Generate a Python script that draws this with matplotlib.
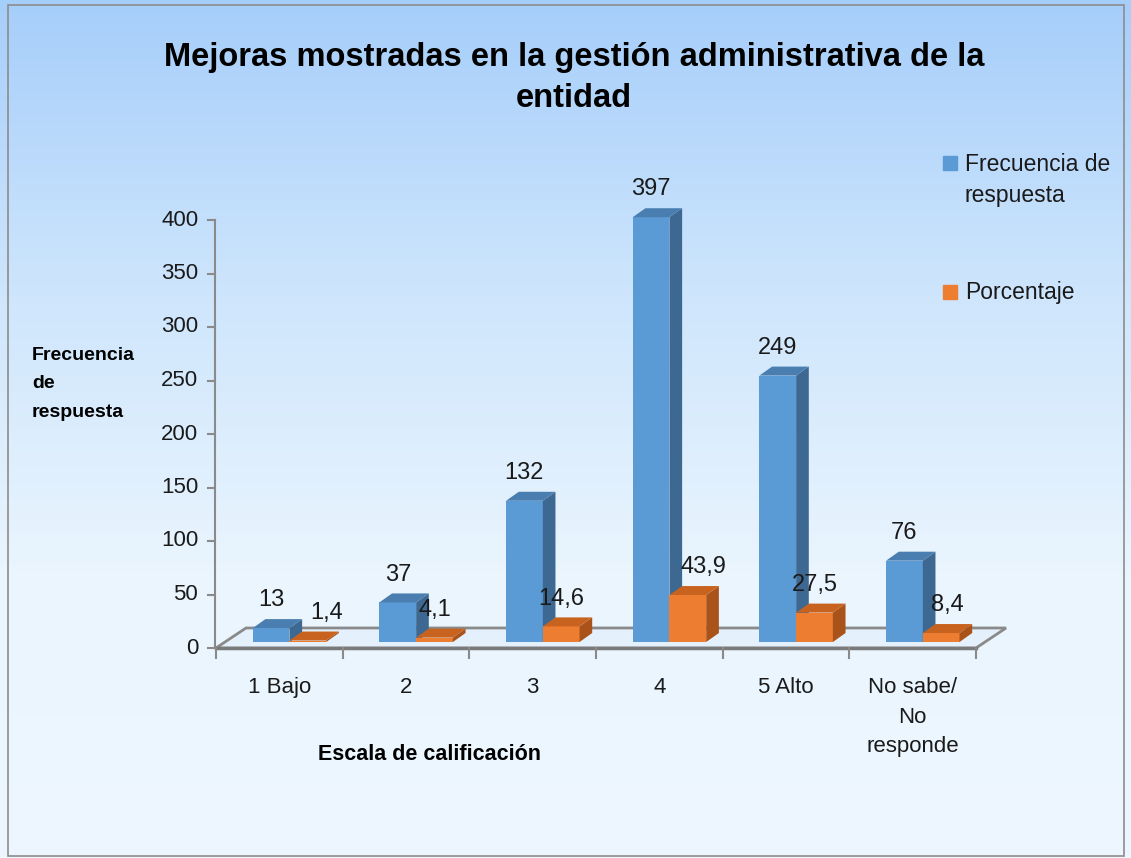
import numpy as np
import matplotlib.pyplot as plt
from matplotlib.patches import Polygon, Rectangle
from matplotlib.colors import LinearSegmentedColormap

categories = ['1 Bajo', '2', '3', '4', '5 Alto', 'No sabe/\nNo\nresponde']
frecuencia = [13, 37, 132, 397, 249, 76]
porcentaje = [1.4, 4.1, 14.6, 43.9, 27.5, 8.4]
pct_labels = ['1,4', '4,1', '14,6', '43,9', '27,5', '8,4']
yticks = [0, 50, 100, 150, 200, 250, 300, 350, 400]

plt.rcParams['font.family'] = ['Liberation Sans', 'DejaVu Sans']
txt = '#1a1a1a'

W, H = 1131, 858
fig = plt.figure(figsize=(W / 100, H / 100), dpi=100)

# background gradient + frame
bg = fig.add_axes([0, 0, 1, 1], zorder=-10)
cmap = LinearSegmentedColormap.from_list('bg', ['#a6cefa', '#cde5fc', '#eaf5fe', '#eef7fe'])
bg.imshow(np.linspace(0, 1, 256).reshape(-1, 1), aspect='auto', cmap=cmap,
          extent=[0, 1, 0, 1])
bg.add_patch(Rectangle((8 / W, 2 / H), 1116 / W, 851 / H, fill=False,
                       edgecolor='#8c8c8c', lw=1.2))
bg.set_xlim(0, 1)
bg.set_ylim(0, 1)
bg.axis('off')

ax = fig.add_axes([216 / W, (H - 648) / H, 760 / W, 428 / H])
ax.set_xlim(0, 6)
ax.set_ylim(0, 400)
ax.patch.set_alpha(0)
for s in ax.spines.values():
    s.set_visible(False)
ax.set_xticks([])
ax.set_yticks([])

grey = '#8a8a8a'
# floor
fdx, fdy = 0.237, 18.7
floor = Polygon([(0, 0), (6, 0), (6 + fdx, fdy), (fdx, fdy)], closed=True,
                facecolor='#e4f1fc', edgecolor=grey, lw=2, clip_on=False, zorder=1)
ax.add_patch(floor)
ax.plot([0, 6], [0, 0], color='#7a7a7a', lw=2.5, clip_on=False, zorder=1.5)

# y axis
ax.plot([-0.008, -0.008], [0, 400], color=grey, lw=1.5, clip_on=False, zorder=1)
for t in yticks:
    ax.plot([-0.06, -0.008], [t, t], color=grey, lw=1.5, clip_on=False)
    ax.text(-0.14, t, str(t), ha='right', va='center', fontsize=16, color=txt)

# x ticks
for i in range(7):
    ax.plot([i, i], [0, -9.5], color=grey, lw=1.5, clip_on=False)
for i, c in enumerate(categories):
    ax.text(i + 0.5, -27, c, ha='center', va='top', fontsize=16, linespacing=1.55,
            color=txt)

# 3D bars
bw = 0.29
base = 5.6
ddx, ddy = 0.1, 8.4
styles = [
    ('#5b9bd5', '#3d6891', '#4a7eb0'),
    ('#ed7d31', '#a95219', '#c8631f'),
]
z = 2
for i in range(len(categories)):
    for k, (vals, offs) in enumerate([(frecuencia, 0.29), (porcentaje, 0.58)]):
        v = vals[i]
        x0 = i + offs
        front, side, top = styles[k]
        ax.bar(x0, v, width=bw, bottom=base, align='edge', color=front,
               zorder=z, clip_on=False)
        y1 = base + v
        ax.add_patch(Polygon([(x0 + bw, base), (x0 + bw + ddx, base + ddy),
                              (x0 + bw + ddx, y1 + ddy), (x0 + bw, y1)],
                             facecolor=side, edgecolor='none', zorder=z, clip_on=False))
        ax.add_patch(Polygon([(x0, y1), (x0 + bw, y1), (x0 + bw + ddx, y1 + ddy),
                              (x0 + ddx, y1 + ddy)],
                             facecolor=top, edgecolor='none', zorder=z, clip_on=False))
        z += 1

# value labels
nudge_pct = [0.15, 0, 0, 0.12, 0, 0.05]
for i in range(len(categories)):
    ax.annotate(str(frecuencia[i]), (i + 0.29 + bw / 2, base + frecuencia[i]),
                xytext=(0, 20), textcoords='offset points', ha='center', va='center',
                fontsize=17, zorder=50, color=txt, annotation_clip=False)
    ax.annotate(pct_labels[i], (i + 0.58 + bw / 2 + nudge_pct[i], base + porcentaje[i]),
                xytext=(0, 20), textcoords='offset points', ha='center', va='center',
                fontsize=17, zorder=50, color=txt, annotation_clip=False)

# titles
fig.text(574 / W, 1 - 78 / H, 'Mejoras mostradas en la gestión administrativa de la\nentidad',
         ha='center', va='center', fontsize=23.5, fontweight='bold', linespacing=1.45)
fig.text(32 / W, 1 - 384 / H, 'Frecuencia\nde\nrespuesta', ha='left', va='center',
         fontsize=14, fontweight='bold', linespacing=1.9)
fig.text(430 / W, 1 - 755 / H, 'Escala de calificación', ha='center', va='center',
         fontsize=15.5, fontweight='bold')

# legend
fig.add_artist(Rectangle((943 / W, 1 - 170 / H), 14 / W, 14 / H, color='#5b9bd5',
                         transform=fig.transFigure))
fig.text(965 / W, 1 - 180 / H, 'Frecuencia de\nrespuesta', ha='left', va='center',
         fontsize=16.5, linespacing=1.45, color=txt)
fig.add_artist(Rectangle((943 / W, 1 - 299 / H), 14 / W, 14 / H, color='#ed7d31',
                         transform=fig.transFigure))
fig.text(965 / W, 1 - 292 / H, 'Porcentaje', ha='left', va='center', fontsize=16.5,
         color=txt)

fig.savefig('out.png', dpi=100)
